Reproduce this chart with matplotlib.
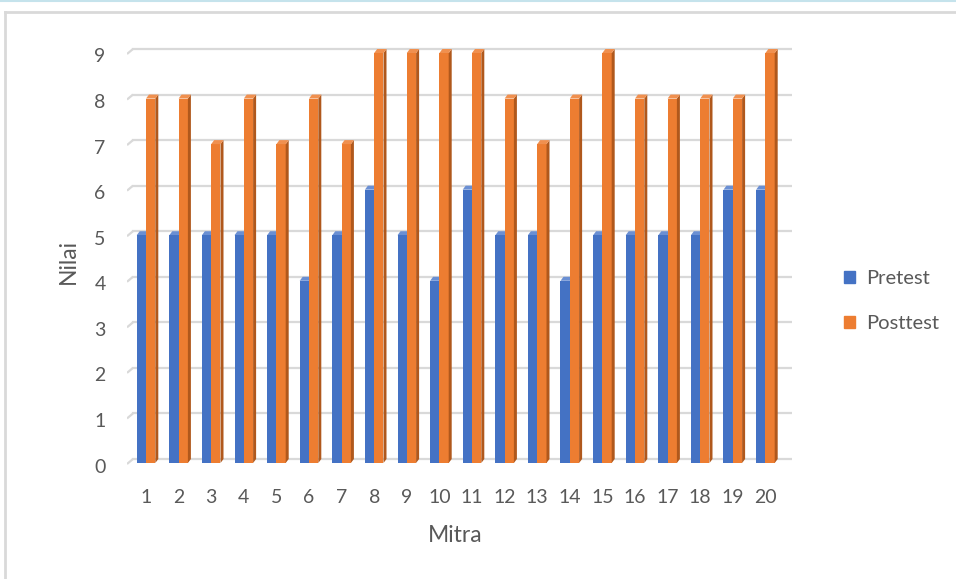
import matplotlib
matplotlib.use("Agg")
import matplotlib.pyplot as plt
from matplotlib.patches import Polygon, Rectangle
from matplotlib.lines import Line2D

categories = [str(i) for i in range(1, 21)]
pretest = [5, 5, 5, 5, 5, 4, 5, 6, 5, 4, 6, 5, 5, 4, 5, 5, 5, 5, 6, 6]
posttest = [8, 8, 7, 8, 7, 8, 7, 9, 9, 9, 9, 8, 7, 8, 9, 8, 8, 8, 8, 9]
yticks = list(range(0, 10))

blue = "#4472C4"
orange = "#ED7D31"
orange_side = "#B0581C"
orange_top = "#F0904F"
blue_top = "#6A8FD3"
grid_c = "#D9D9D9"
txt_c = "#595959"

plt.rcParams["font.family"] = ["Lato", "DejaVu Sans"]

W, H = 956, 579
fig = plt.figure(figsize=(W / 100, H / 100), dpi=100)

# axes placed in pixel terms: x 127..792, y 40..470
ax = fig.add_axes([127 / W, (H - 470) / H, 665 / W, 430 / H])
px_x = 32.6   # pixels per category
px_y = 45.56  # pixels per unit
ax.set_xlim(-19 / px_x, (792 - 146) / px_x)
ax.set_ylim(-7 / px_y, 9 + 13 / px_y)
ax.axis("off")

# 3d depth offsets
gdx, gdy = 6 / px_x, 5 / px_y
bdx, bdy = 3 / px_x, 4 / px_y

# gridlines with perspective stub on the left
x_front = -19 / px_x
for v in yticks:
    ax.plot([x_front, x_front + gdx], [v - 1 / px_y, v - 1 / px_y + gdy],
            color=grid_c, lw=1.6, zorder=1, solid_capstyle="butt")
    ax.plot([x_front + gdx, ax.get_xlim()[1]], [v - 1 / px_y + gdy] * 2,
            color=grid_c, lw=1.6, zorder=1)
    ax.text(x_front - 27 / px_x, v - 4 / px_y, str(v), ha="center", va="center",
            fontsize=14, color=txt_c)

bw = 9.3 / px_x
for i, (a, b) in enumerate(zip(pretest, posttest)):
    xl = i - bw
    ax.add_patch(Rectangle((xl, 0), bw, a, facecolor=blue, edgecolor="none", zorder=3))
    ax.add_patch(Polygon([(xl, a), (xl + bdx, a + bdy), (i + bdx, a + bdy), (i, a)],
                         closed=True, facecolor=blue_top, edgecolor="none", zorder=2))
    xr = i + bw
    ax.add_patch(Rectangle((i, 0), bw, b, facecolor=orange, edgecolor="none", zorder=4))
    ax.add_patch(Polygon([(xr, 0), (xr + bdx, bdy), (xr + bdx, b + bdy), (xr, b)],
                         closed=True, facecolor=orange_side, edgecolor="none", zorder=4))
    ax.add_patch(Polygon([(i, b), (i + bdx, b + bdy), (xr + bdx, b + bdy), (xr, b)],
                         closed=True, facecolor=orange_top, edgecolor="none", zorder=4))
    ax.text(i, -35 / px_y, categories[i], ha="center", va="center",
            fontsize=14, color=txt_c)

fig.text(455 / W, 1 - 536 / H, "Mitra", ha="center", va="center", fontsize=16.5, color=txt_c)
fig.text(68 / W, 1 - 262 / H, "Nilai", ha="center", va="center", rotation=90,
         fontsize=16.5, color=txt_c)

# legend
handles = [Rectangle((0, 0), 1, 1, color=blue), Rectangle((0, 0), 1, 1, color=orange)]
fig.legend(handles, ["Pretest", "Posttest"], loc="center left",
           bbox_to_anchor=(826 / W, 1 - 301 / H), frameon=False, fontsize=14.5,
           labelcolor=txt_c, handlelength=0.55, handleheight=0.55, handletextpad=0.55,
           labelspacing=1.4)

# chart frame and top strip
fig.add_artist(Line2D([5 / W, 1], [1 - 12 / H] * 2, color="#D9D9D9", lw=2))
fig.add_artist(Line2D([5 / W] * 2, [0, 1 - 12 / H], color="#D9D9D9", lw=2))
fig.add_artist(Line2D([0, 1], [1 - 0.5 / H] * 2, color="#C5E3EC", lw=1.5))

fig.savefig("out.png", dpi=100)
